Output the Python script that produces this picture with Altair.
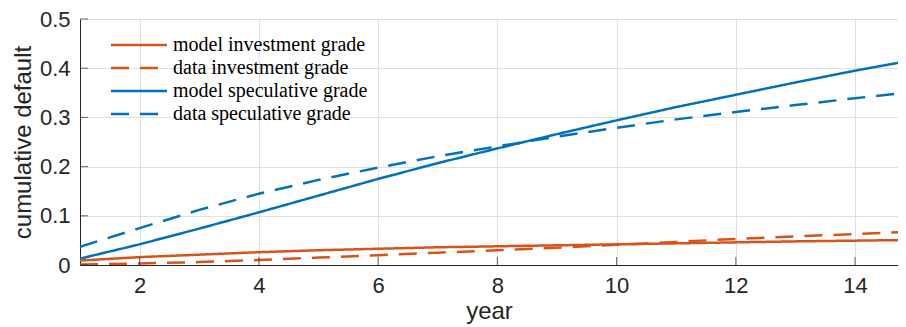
import altair as alt
import pandas as pd

years = list(range(1, 16))
model_invest = [0.009, 0.016, 0.021, 0.026, 0.030, 0.033, 0.036, 0.038, 0.040, 0.042, 0.044, 0.046, 0.048, 0.0495, 0.051]
data_invest = [0.001, 0.003, 0.006, 0.010, 0.015, 0.020, 0.025, 0.030, 0.035, 0.041, 0.047, 0.053, 0.058, 0.063, 0.068]
model_spec = [0.013, 0.042, 0.074, 0.107, 0.141, 0.175, 0.207, 0.237, 0.266, 0.294, 0.321, 0.346, 0.371, 0.395, 0.417]
data_spec = [0.037, 0.075, 0.112, 0.145, 0.173, 0.198, 0.221, 0.241, 0.261, 0.279, 0.296, 0.311, 0.325, 0.339, 0.352]

series_names = ["model investment grade", "data investment grade",
                "model speculative grade", "data speculative grade"]
series_values = [model_invest, data_invest, model_spec, data_spec]
series_colors = ["#D95319", "#D95319", "#0072BD", "#0072BD"]
series_dash = [[1, 0], [18, 11], [1, 0], [18, 11]]

x_ticks = [2, 4, 6, 8, 10, 12, 14]
y_ticks = [0, 0.1, 0.2, 0.3, 0.4, 0.5]

rows = []
for name, vals in zip(series_names, series_values):
    for yr, v in zip(years, vals):
        rows.append({"year": yr, "value": v, "series": name})
df = pd.DataFrame(rows)

W, H = 818, 246
AX = "#262626"
GRID = "#e0e0e0"

x_scale = alt.Scale(domain=[1, 14.72], nice=False, zero=False)
y_scale = alt.Scale(domain=[0, 0.5], nice=False)

sym_size = 121
half_len = 28
path_half = half_len / (sym_size ** 0.5 / 2)
sym_path = f"M {-path_half:.3f} 0 L {path_half:.3f} 0"

legend = alt.Legend(
    title=None, orient="none", legendX=30 + half_len - 5.5 - 3.5, legendY=16,
    symbolType=sym_path, symbolSize=sym_size, symbolStrokeWidth=2.5,
    labelFont="Liberation Serif", labelFontSize=20, labelColor="#000000",
    labelOffset=half_len - 5.5 + 6 - 4.5, rowPadding=3, padding=0, labelLimit=0,
)

lines = alt.Chart(df).mark_line(strokeWidth=2.5, clip=True).encode(
    x=alt.X("year:Q", scale=x_scale, title="year",
            axis=alt.Axis(values=x_ticks, format="d")),
    y=alt.Y("value:Q", scale=y_scale, title="cumulative default",
            axis=alt.Axis(values=y_ticks, format="~g")),
    color=alt.Color("series:N", sort=series_names,
                    scale=alt.Scale(domain=series_names, range=series_colors),
                    legend=legend),
    strokeDash=alt.StrokeDash("series:N", sort=series_names,
                              scale=alt.Scale(domain=series_names, range=series_dash),
                              legend=legend),
)

xt = alt.Chart(pd.DataFrame({"year": x_ticks})).mark_tick(
    orient="vertical", size=8, thickness=1, color=AX).encode(
    x=alt.X("year:Q", scale=x_scale), y=alt.value(H - 4))
yt = alt.Chart(pd.DataFrame({"value": y_ticks})).mark_tick(
    orient="horizontal", size=8, thickness=1, color=AX).encode(
    y=alt.Y("value:Q", scale=y_scale), x=alt.value(4))

chart = alt.layer(lines, xt, yt).properties(
    width=W, height=H,
    autosize=alt.AutoSizeParams(type="none"),
    padding={"left": 72, "top": 11, "right": 0, "bottom": 62},
).configure_view(stroke=None).configure_axis(
    labelFont="Liberation Sans", labelFontSize=22, labelColor=AX,
    titleFont="Liberation Sans", titleFontSize=24, titleFontWeight="normal",
    titleColor=AX, domainColor=AX, domainWidth=1, tickSize=0,
    gridColor=GRID, gridWidth=1,
).configure_axisX(labelPadding=10, titlePadding=3, labelFlush=False).configure_axisY(
    labelPadding=10, titlePadding=4)

chart.save("out.html", embed_options={"renderer": "svg", "actions": False})
